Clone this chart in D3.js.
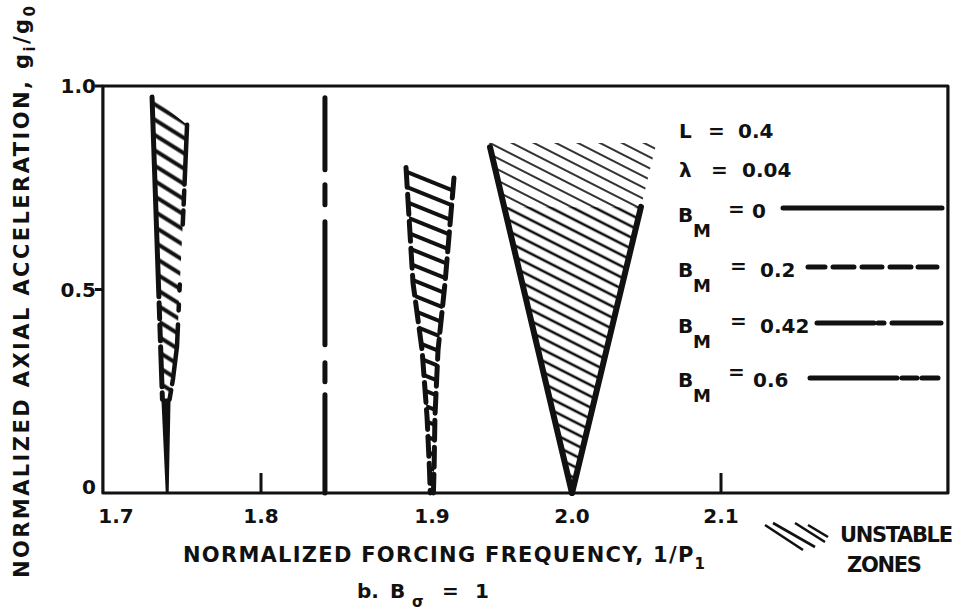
<!DOCTYPE html>
<html><head><meta charset="utf-8">
<script src="https://cdn.jsdelivr.net/npm/d3@7"></script>
<style>
html,body{margin:0;padding:0;background:#fff;}
svg{display:block;}
text{font-family:"DejaVu Sans",sans-serif;fill:#111;font-weight:bold;}
</style></head><body>
<svg id="chart" width="958" height="614"></svg>
<script>
// ---- data ----
const xTickValues = [1.7, 1.8, 1.9, 2.0, 2.1];
const xTickLabels = ["1.7", "1.8", "1.9", "2.0", "2.1"];
const yTickValues = [0, 0.5, 1.0];
const yTickLabels = ["0", "0.5", "1.0"];
const innerTickValues = [1.8, 2.1];
const outerYTickValues = [0.5, 1.0];

// unstable zone near 1.74 (B_M = 0.6 style)
const zoneALeft  = [[1.7297, 0.973], [1.7364, 0.23], [1.7392, 0]];
const zoneARight = [[1.7523, 0.905], [1.7500, 0.70], [1.7477, 0.52], [1.7458, 0.36], [1.7432, 0.28], [1.7410, 0.23], [1.7398, 0]];
const zoneAStemTop = 0.23;
// degenerate zone (B_M = 0.42)
const zoneDLine  = [[1.8374, 0.971], [1.8374, 0]];
// unstable zone near 1.9 (B_M = 0.2 style)
const zoneBLeft  = [[1.8848, 0.80], [1.8889, 0.516], [1.8942, 0.351], [1.8971, 0.187], [1.8985, 0.06], [1.899, 0]];
const zoneBRight = [[1.9157, 0.774], [1.9093, 0.516], [1.9043, 0.351], [1.9021, 0.187], [1.9015, 0.06], [1.901, 0]];
// unstable zone near 2.0 (B_M = 0)
const zoneCLeft  = [[1.9414, 0.850], [2.0, 0]];
const zoneCRight = [[2.0463, 0.703], [2.0, 0]];
const zoneCHatchTop = 0.86;

const paramNames  = ["L", "λ"];
const paramValues = ["0.4", "0.04"];
const bmValues    = ["0", "0.2", "0.42", "0.6"];

// ---- layout / styles ----
const svg = d3.select("#chart");
const x = d3.scaleLinear().domain(xTickValues).range([106, 261, 432, 572, 721]);
const y = d3.scaleLinear().domain([0, 1]).range([493, 86]);
const xFrame = [1.698, 2.2523];
const ink = "#111";
const line = d3.line().x(d => x(d[0])).y(d => y(d[1]));

const defs = svg.append("defs");
function hatch(id, spacing, angle, width, color) {
  const p = defs.append("pattern").attr("id", id).attr("patternUnits", "userSpaceOnUse")
    .attr("width", 20).attr("height", spacing).attr("patternTransform", `rotate(${angle})`);
  p.append("rect").attr("x", -1).attr("y", spacing / 2 - width / 2).attr("width", 22).attr("height", width).attr("fill", color);
}
hatch("hC", 10, 27, 2.6, ink);
hatch("hCtop", 10, 27, 2.0, "#333");
hatch("hA", 13, 32, 4, ink);
hatch("hB", 14, 22, 4, ink);

function interpX(p0, p1, yv) { const t = (yv - p1[1]) / (p0[1] - p1[1]); return p1[0] + (p0[0] - p1[0]) * t; }

// zone A (hatched upper part, solid stem below)
{
  const up = zoneALeft.filter(d => d[1] >= zoneAStemTop);
  const upR = zoneARight.filter(d => d[1] >= zoneAStemTop);
  svg.append("path").attr("d", line(up.concat(upR.slice().reverse())) + "Z").attr("fill", "url(#hA)");
  const lo = zoneALeft.filter(d => d[1] <= zoneAStemTop);
  const loR = zoneARight.filter(d => d[1] <= zoneAStemTop);
  svg.append("path").attr("d", line(lo.concat(loR.slice().reverse())) + "Z")
    .attr("fill", ink).attr("stroke", ink).attr("stroke-width", 2).attr("stroke-linejoin", "round");
}
// zone B
svg.append("path").attr("d", line(zoneBLeft.concat(zoneBRight.slice().reverse()))).attr("fill", "url(#hB)");
// zone C hatch
{
  const yTopR = zoneCRight[0][1];
  const lx = v => interpX(zoneCLeft[0], zoneCLeft[1], v);
  const rx = v => interpX(zoneCRight[0], zoneCRight[1], v);
  const lower = [[lx(yTopR), yTopR], [rx(yTopR), yTopR], [2.0, 0]];
  const upper = [[lx(zoneCHatchTop), zoneCHatchTop], [rx(zoneCHatchTop), zoneCHatchTop], [rx(yTopR), yTopR], [lx(yTopR), yTopR]];
  svg.append("path").attr("d", line(lower) + "Z").attr("fill", "url(#hC)");
  svg.append("path").attr("d", line(upper) + "Z").attr("fill", "url(#hCtop)");
}

// boundaries
const bStyle = (sel, w, dash) => sel.attr("fill", "none").attr("stroke", ink).attr("stroke-width", w)
  .attr("stroke-linecap", "round").attr("stroke-linejoin", "round").attr("stroke-dasharray", dash);
bStyle(svg.append("path").attr("d", line(zoneALeft.filter(d => d[1] >= zoneAStemTop))), 5, "200,6,16,6,16,6,40,6,16");
bStyle(svg.append("path").attr("d", line(zoneARight.filter(d => d[1] >= zoneAStemTop))), 4.5, "60,6,14,6,14");
bStyle(svg.append("path").attr("d", line(zoneBLeft)), 5, "20,7");
bStyle(svg.append("path").attr("d", line(zoneBRight)), 5, "20,7");
bStyle(svg.append("path").attr("d", line(zoneDLine)), 5, "72,15,20,17,123,18,19,13,120");
bStyle(svg.append("path").attr("d", line(zoneCLeft)), 6, null);
bStyle(svg.append("path").attr("d", line(zoneCRight)), 6, null);

// frame
const fx0 = x(xFrame[0]), fx1 = x(xFrame[1]), fy0 = y(1.0), fy1 = y(0);
svg.append("path").attr("d", `M${fx0},${fy0}H${fx1}V${fy1}H${fx0}Z`).attr("fill", "none")
  .attr("stroke", ink).attr("stroke-width", 3.2).attr("stroke-linejoin", "round");

// ticks
svg.selectAll(".xt").data(innerTickValues).join("line")
  .attr("x1", d => x(d)).attr("x2", d => x(d)).attr("y1", y(0)).attr("y2", y(0) - 20)
  .attr("stroke", ink).attr("stroke-width", 3);
svg.selectAll(".yt").data(outerYTickValues).join("line")
  .attr("x1", fx0 - 8).attr("x2", fx0).attr("y1", d => y(d)).attr("y2", d => y(d))
  .attr("stroke", ink).attr("stroke-width", 3);

// tick labels
svg.selectAll(".xl").data(xTickValues).join("text")
  .attr("x", (d, i) => x(d) + (i === 0 ? 10 : 0)).attr("y", 523)
  .attr("text-anchor", "middle").attr("font-size", 20)
  .text((d, i) => xTickLabels[i]);
svg.selectAll(".yl").data(yTickValues).join("text")
  .attr("x", 96).attr("y", d => Math.min(y(d), y(0) - 6)).attr("dy", "0.36em")
  .attr("text-anchor", "end").attr("font-size", 20)
  .text((d, i) => yTickLabels[i]);

function fit(sel, target) {
  const n = sel.text().length;
  const w = sel.node().getComputedTextLength();
  sel.style("letter-spacing", ((target - w) / Math.max(1, n - 1)) + "px");
}

// x title
{
  const t = svg.append("text").attr("x", 183).attr("y", 562).attr("font-size", 21);
  t.append("tspan").text("NORMALIZED FORCING FREQUENCY, 1/P");
  t.append("tspan").attr("font-size", 15).attr("dy", 7).text("1");
  fit(t, 522);
}
// y title
{
  const t = svg.append("text").attr("transform", "translate(29,578) rotate(-90)").attr("font-size", 21);
  t.append("tspan").text("NORMALIZED AXIAL ACCELERATION, g");
  t.append("tspan").attr("font-size", 15).attr("dy", 6).text("i");
  t.append("tspan").attr("dy", -6).text("/g");
  t.append("tspan").attr("font-size", 15).attr("dy", 6).text("0");
  fit(t, 572);
}
// caption
{
  const t = svg.append("text").attr("y", 598).attr("font-size", 20);
  t.append("tspan").attr("x", 357).text("b.");
  t.append("tspan").attr("x", 390).text("B");
  t.append("tspan").attr("x", 412).attr("dy", 9).attr("font-size", 15).text("σ");
  t.append("tspan").attr("x", 442).attr("dy", -9).text("=");
  t.append("tspan").attr("x", 475).text("1");
}

// legend: parameters
const prmY = [138, 177];
paramNames.forEach((n, i) => {
  const t = svg.append("text").attr("y", prmY[i]).attr("font-size", 20);
  t.append("tspan").attr("x", 679).text(n);
  t.append("tspan").attr("x", i === 0 ? 708 : 711).text("=");
  t.append("tspan").attr("x", i === 0 ? 738 : 742).text(paramValues[i]);
});
// legend: B_M rows
const bmBase = [222, 277, 333, 387];
const bmLineY = [208, 267, 323, 378];
const bmLineX = [[783, 942], [808, 937], [817, 942], [810, 938]];
const bmEqX = [728, 730, 730, 728];
const bmValX = [752, 760, 760, 753];
const bmEqDy = [-6, -4, -5, -8];
const bmDash = [null, "17,8,21,8,20,8,21,7,20", "57,4,6,8,49", "87,5,15,5,16"];
bmValues.forEach((v, i) => {
  const t = svg.append("text").attr("font-size", 20);
  t.append("tspan").attr("x", 678).attr("y", bmBase[i]).text("B");
  t.append("tspan").attr("x", 693).attr("y", bmBase[i] + 15).attr("font-size", 18).text("M");
  t.append("tspan").attr("x", bmEqX[i]).attr("y", bmBase[i] + bmEqDy[i]).text("=");
  t.append("tspan").attr("x", bmValX[i]).attr("y", bmBase[i] + (i === 0 ? -4 : 0)).text(v);
  svg.append("line").attr("x1", bmLineX[i][0]).attr("x2", bmLineX[i][1]).attr("y1", bmLineY[i]).attr("y2", bmLineY[i])
    .attr("stroke", ink).attr("stroke-width", 5).attr("stroke-linecap", "round").attr("stroke-dasharray", bmDash[i]);
});

// unstable zones key
{
  const keyLines = [[765, 525, 803, 550], [773, 523, 815, 547], [795, 523, 825, 542], [808, 525, 828, 537]];
  svg.selectAll(".key").data(keyLines).join("line")
    .attr("x1", d => d[0]).attr("y1", d => d[1]).attr("x2", d => d[2]).attr("y2", d => d[3])
    .attr("stroke", ink).attr("stroke-width", 2.6);
  const t1 = svg.append("text").attr("x", 840).attr("y", 542).attr("font-size", 21).text("UNSTABLE");
  fit(t1, 113);
  const t2 = svg.append("text").attr("x", 847).attr("y", 572).attr("font-size", 21).text("ZONES");
  fit(t2, 75);
}
</script>
</body></html>
